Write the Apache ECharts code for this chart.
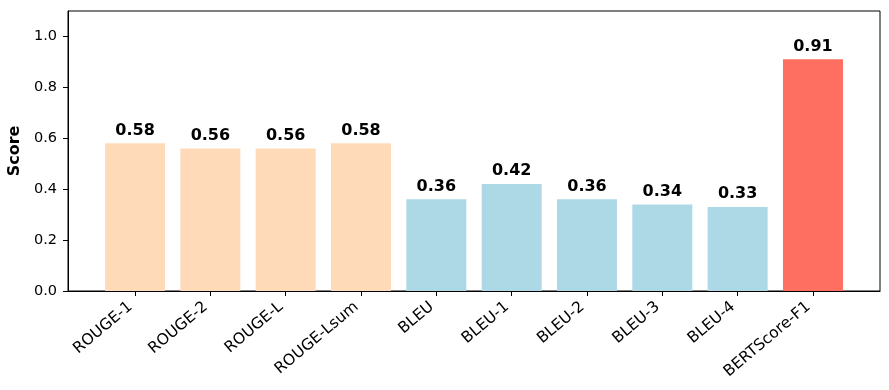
<!DOCTYPE html>
<html>
<head>
<meta charset="utf-8">
<script src="https://cdn.jsdelivr.net/npm/echarts@6/dist/echarts.min.js"></script>
<style>
  html, body { margin: 0; padding: 0; background: #fff; }
  #chart { width: 889px; height: 390px; }
</style>
</head>
<body>
<div id="chart"></div>
<script>
// metric names and scores
var categories = ['ROUGE-1', 'ROUGE-2', 'ROUGE-L', 'ROUGE-Lsum', 'BLEU', 'BLEU-1', 'BLEU-2', 'BLEU-3', 'BLEU-4', 'BERTScore-F1'];
var scores = [0.58, 0.56, 0.56, 0.58, 0.36, 0.42, 0.36, 0.34, 0.33, 0.91];
var yTicks = [0, 0.2, 0.4, 0.6, 0.8, 1.0];

// colour by metric family
function barColor(name) {
	if (name.indexOf('ROUGE') === 0) return '#FFDAB9';
	if (name.indexOf('BLEU') === 0) return '#ADD8E6';
	return '#FF6F61';
}

var font = 'DejaVu Sans';
var idx = categories.map(function (c, i) { return i; });

var barData = scores.map(function (v, i) {
	return {
		value: [i, v],
		itemStyle: { color: barColor(categories[i]) }
	};
});

var chart = echarts.init(document.getElementById('chart'), null, { renderer: 'canvas' });
chart.setOption({
	animation: false,
	backgroundColor: '#fff',
	grid: {
		left: 68, right: 9, top: 11, bottom: 99,
		outerBoundsMode: 'none',
		containLabel: false,
		show: true, borderColor: '#000', borderWidth: 1, backgroundColor: 'transparent'
	},
	xAxis: {
		type: 'value',
		min: -0.89,
		max: 9.89,
		splitLine: { show: false },
		axisLine: { show: true, onZero: false, lineStyle: { color: '#000', width: 1 } },
		axisTick: { show: true, length: 5, lineStyle: { color: '#000' }, customValues: idx },
		axisLabel: {
			customValues: idx,
			rotate: 40,
			margin: 10,
			padding: [0, 6, 0, 0],
			color: '#000',
			fontFamily: font,
			fontSize: 15.5,
			formatter: function (v) { return categories[Math.round(v)]; }
		}
	},
	yAxis: {
		type: 'value',
		min: 0,
		max: 1.1,
		name: 'Score',
		nameLocation: 'middle',
		nameGap: 37,
		nameTextStyle: { fontFamily: font, fontSize: 16, fontWeight: 'bold', color: '#000' },
		splitLine: { show: false },
		axisLine: { show: true, onZero: false, lineStyle: { color: '#000', width: 1 } },
		axisTick: { show: true, length: 5, lineStyle: { color: '#000' }, customValues: yTicks },
		axisLabel: {
			customValues: yTicks,
			margin: 11,
			color: '#000',
			fontFamily: font,
			fontSize: 14.5,
			formatter: function (v) { return v.toFixed(1); }
		}
	},
	series: [{
		type: 'bar',
		data: barData,
		barWidth: 60,
		label: {
			show: true,
			position: 'top',
			distance: 5,
			color: '#000',
			fontFamily: font,
			fontSize: 16,
			fontWeight: 'bold',
			formatter: function (p) { return p.value[1].toFixed(2); }
		}
	}]
});
</script>
</body>
</html>
